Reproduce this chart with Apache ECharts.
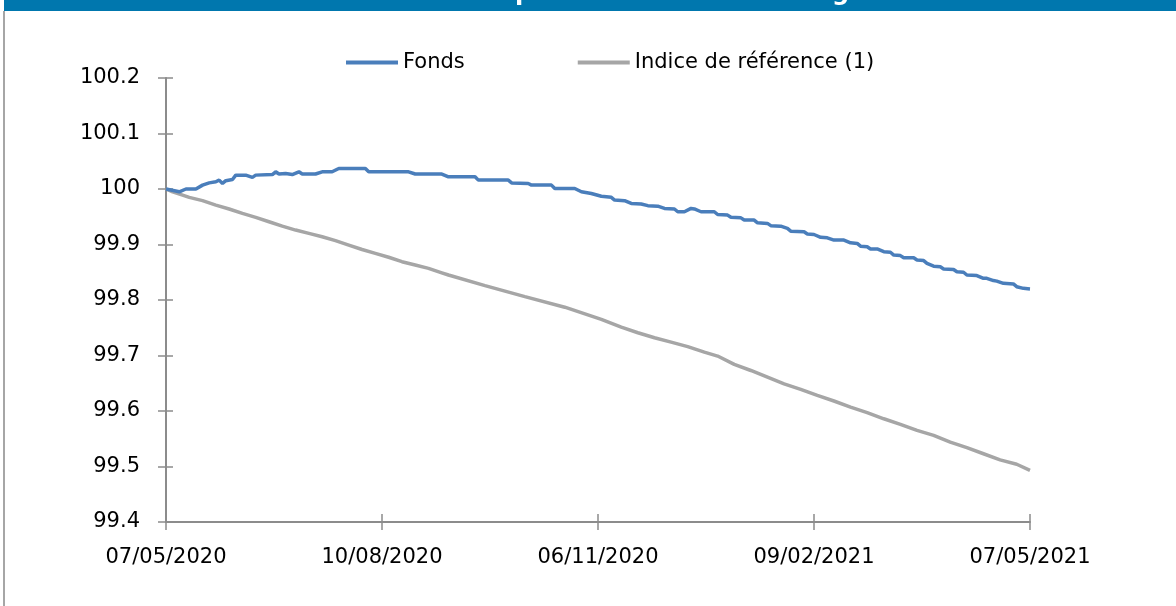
<!DOCTYPE html>
<html>
<head>
<meta charset="utf-8">
<script src="https://cdn.jsdelivr.net/npm/echarts@6/dist/echarts.min.js"></script>
<style>html,body{margin:0;padding:0;background:#fff}#c{width:1176px;height:606px}</style>
</head>
<body>
<div id="c"></div>
<script>
// x = business-day index (0..260), labelled every 65 points
const tickLabels = ['07/05/2020', '10/08/2020', '06/11/2020', '09/02/2021', '07/05/2021'];
const seriesNames = ['Fonds', 'Indice de référence (1)'];
const titleText = 'Evolution de la performance sur un an glissant';

const fondsIdx = [0, 4, 6, 9, 11, 13, 15, 16, 17, 18, 20, 21, 24, 26, 27, 32, 33, 34, 36, 38, 40, 41, 45, 47, 50, 52, 60, 61, 73, 75, 83, 85, 93, 94, 103, 104, 109, 110, 116, 117, 123, 125, 128, 131,
  134, 135, 138, 140, 143, 145, 148, 150, 153, 154, 156, 158, 159, 161, 165, 166, 169, 170, 173, 174, 177, 178, 181, 182, 185, 187, 188, 192, 193, 195, 197, 199, 201, 204, 206, 208, 209, 211, 212, 214, 216, 218, 219, 221, 222, 225, 226, 228, 229, 231, 233, 234, 237, 238, 240, 241, 244, 246, 247, 249, 250, 252, 255, 256, 258, 260];
const fondsVal = [100.000, 99.995, 100.000, 100.000, 100.007, 100.011, 100.013, 100.016, 100.010, 100.015, 100.017, 100.025, 100.025, 100.021, 100.025, 100.026, 100.031, 100.027, 100.028, 100.026, 100.031, 100.027, 100.027, 100.031, 100.031, 100.037, 100.037, 100.031, 100.031, 100.027, 100.027, 100.022, 100.022, 100.016, 100.016, 100.011, 100.010, 100.007, 100.007, 100.001, 100.001, 99.995, 99.992, 99.987,
  99.985, 99.980, 99.979, 99.974, 99.973, 99.970, 99.969, 99.965, 99.964, 99.959, 99.959, 99.965, 99.964, 99.959, 99.959, 99.954, 99.953, 99.949, 99.948, 99.944, 99.944, 99.939, 99.938, 99.934, 99.933, 99.929, 99.924, 99.923, 99.919, 99.918, 99.913, 99.912, 99.908, 99.908, 99.903, 99.902, 99.897, 99.896, 99.892, 99.892, 99.887, 99.886, 99.881, 99.880, 99.876, 99.876, 99.872, 99.871, 99.866, 99.861, 99.860, 99.856, 99.855, 99.851, 99.850, 99.845, 99.844, 99.839, 99.839, 99.835, 99.834, 99.830, 99.829, 99.824, 99.821, 99.820];

const indiceIdx = [0, 2, 5, 7, 11, 15, 19, 23, 27, 31, 35, 39, 43, 47, 51, 55, 59, 63, 67, 71, 75, 79, 83, 85, 96, 108, 120, 131, 137, 142, 147, 152, 157, 162, 166, 171, 176, 181, 186, 191, 196, 201, 206, 211, 216, 221, 226, 231, 236, 241, 246, 251, 256, 260];
const indiceVal = [100.000, 99.995, 99.989, 99.985, 99.979, 99.971, 99.964, 99.956, 99.949, 99.941, 99.933, 99.926, 99.920, 99.914, 99.907, 99.899, 99.891, 99.884, 99.877, 99.869, 99.863, 99.857, 99.849, 99.845, 99.826, 99.806, 99.787, 99.765, 99.751, 99.741, 99.732, 99.724, 99.716, 99.706, 99.699, 99.684, 99.673, 99.661, 99.649, 99.639, 99.628, 99.618, 99.607, 99.597, 99.586, 99.576, 99.565, 99.556, 99.544, 99.534, 99.523, 99.512, 99.504, 99.493];

const FONT = 'DejaVu Sans';
const pairs = (xs, ys) => xs.map((x, i) => [x, ys[i]]);

const chart = echarts.init(document.getElementById('c'), null, { renderer: 'canvas' });
const axisGray = '#8C8C8C';
const xBase = {
  type: 'value', min: 0, max: 260, interval: 65,
  splitLine: { show: false }
};
const yBase = {
  type: 'value', min: 99.4, max: 100.2, interval: 0.1,
  splitLine: { show: false }
};
chart.setOption({
  animation: false,
  backgroundColor: '#ffffff',
  grid: { left: 166, right: 146, top: 78, bottom: 84, containLabel: false },
  graphic: [
    { type: 'rect', z: 1, shape: { x: 4, y: 0, width: 1172, height: 11 }, style: { fill: '#0077AE' } },
    { type: 'rect', z: 1, shape: { x: 3, y: 11, width: 2, height: 595 }, style: { fill: '#A6A6A6' } },
    { type: 'text', z: 2, x: 622, y: 5.5, style: { text: titleText, fill: '#ffffff', font: 'bold 24px "' + FONT + '"', align: 'center', verticalAlign: 'bottom' } }
  ],
  legend: {
    left: 341, top: 47, itemWidth: 52, itemHeight: 4, itemGap: 113, icon: 'rect',
    textStyle: { fontFamily: FONT, fontSize: 21, color: '#000' },
    data: seriesNames
  },
  xAxis: [
    Object.assign({}, xBase, {
      position: 'bottom',
      axisLine: { onZero: false, lineStyle: { color: axisGray, width: 2 } },
      axisTick: { show: true, inside: false, length: 8, lineStyle: { color: axisGray, width: 1.5 } },
      axisLabel: { margin: 25, fontFamily: FONT, fontSize: 21, color: '#000',
        formatter: v => tickLabels[Math.round(v / 65)] }
    }),
    Object.assign({}, xBase, {
      position: 'bottom',
      axisLine: { show: false, onZero: false },
      axisTick: { show: true, inside: true, length: 8, lineStyle: { color: axisGray, width: 1.5 } },
      axisLabel: { show: false }
    })
  ],
  yAxis: [
    Object.assign({}, yBase, {
      position: 'left',
      axisLine: { show: true, onZero: false, lineStyle: { color: axisGray, width: 2 } },
      axisTick: { show: true, inside: false, length: 8, lineStyle: { color: axisGray, width: 1.5 } },
      axisLabel: { margin: 26, fontFamily: FONT, fontSize: 21, color: '#000',
        formatter: v => String(parseFloat(v.toFixed(1))) }
    }),
    Object.assign({}, yBase, {
      position: 'left',
      axisLine: { show: false, onZero: false },
      axisTick: { show: true, inside: true, length: 7, lineStyle: { color: axisGray, width: 1.5 } },
      axisLabel: { show: false }
    })
  ],
  series: [
    {
      name: seriesNames[0], type: 'line', xAxisIndex: 0, yAxisIndex: 0,
      data: pairs(fondsIdx, fondsVal), symbol: 'none', z: 4,
      lineStyle: { color: '#4A7EBB', width: 3.5 }, itemStyle: { color: '#4A7EBB' }
    },
    {
      name: seriesNames[1], type: 'line', xAxisIndex: 0, yAxisIndex: 0,
      data: pairs(indiceIdx, indiceVal), symbol: 'none', z: 3,
      lineStyle: { color: '#A6A6A6', width: 3.5 }, itemStyle: { color: '#A6A6A6' }
    }
  ]
});
</script>
</body>
</html>
